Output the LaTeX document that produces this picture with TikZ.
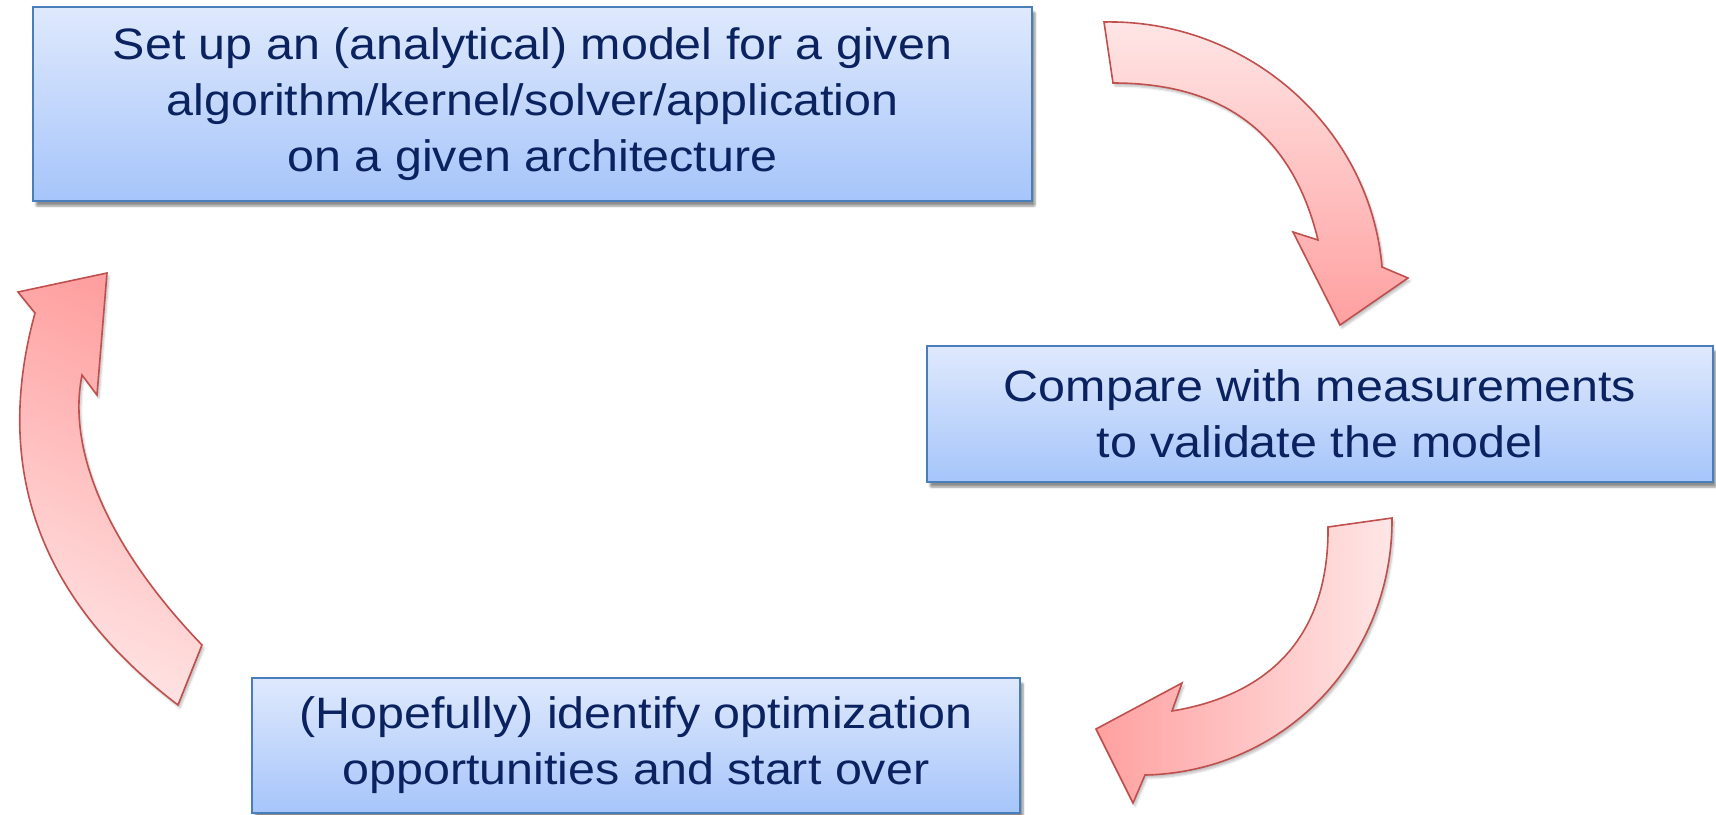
\documentclass[tikz,border=0pt]{standalone}
\usepackage{fontspec}
\setmainfont{Liberation Sans}[FakeStretch=1.1]
\usetikzlibrary{shadows.blur}
\definecolor{boxtop}{RGB}{223,233,253}
\definecolor{boxbot}{RGB}{166,197,250}
\definecolor{boxline}{RGB}{74,126,187}
\definecolor{txtblue}{RGB}{10,34,96}
\definecolor{arrlight}{RGB}{255,230,230}
\definecolor{arrdark}{RGB}{255,160,160}
\definecolor{arrline}{RGB}{192,80,77}
\tikzset{
  stepbox/.style={draw=boxline, line width=1.8pt, top color=boxtop, bottom color=boxbot,
    align=center, text=txtblue, font=\fontsize{44}{56}\selectfont, inner sep=0pt,
    blur shadow={shadow xshift=3pt, shadow yshift=-5pt, shadow blur steps=6, shadow blur extra rounding=1pt, shadow opacity=45}},
  bigarrow/.style={draw=arrline, line width=1.6pt, line join=miter,
    blur shadow={shadow xshift=2pt, shadow yshift=-3pt, shadow blur steps=5, shadow opacity=25}}
}
\begin{document}
\begin{tikzpicture}[x=1pt,y=-1pt]
\useasboundingbox (0,0) rectangle (1716,814);

\node[stepbox, minimum width=999pt, minimum height=194pt] (model) at (532.5,104)
  {Set up an (analytical) model for a given\\algorithm/kernel/solver/application\\on a given architecture};
\node[stepbox, minimum width=786pt, minimum height=136pt] (compare) at (1320,414)
  {Compare with measurements\\to validate the model};
\node[stepbox, minimum width=768pt, minimum height=135pt] (optim) at (636,745.5)
  {(Hopefully) identify optimization\\opportunities and start over};

% arrow 1: model -> compare
\path[bigarrow, top color=arrlight, bottom color=arrdark]
  (1104,22) .. controls (1246,19) and (1370,126) .. (1382,267)
  -- (1408,278) -- (1340,325) -- (1293,232) -- (1318,240)
  .. controls (1292,133) and (1223,83) .. (1113,83) -- cycle;

% arrow 2: compare -> optim
\path[bigarrow, left color=arrdark, right color=arrlight]
  (1328,527) -- (1392,518) .. controls (1393,658) and (1285,772) .. (1145,775)
  -- (1133,803) -- (1096,729) -- (1182,683) -- (1172,711)
  .. controls (1275,694) and (1329,631) .. (1328,527) -- cycle;

% arrow 3: optim -> model
\path[bigarrow, top color=arrdark, bottom color=arrlight, shading angle=-25]
  (178,705) .. controls (40,600) and (-8,470) .. (35,313)
  -- (18,292) -- (107,273) -- (97,395) -- (82,375)
  .. controls (65,460) and (120,560) .. (202,645) -- cycle;
\end{tikzpicture}
\end{document}
